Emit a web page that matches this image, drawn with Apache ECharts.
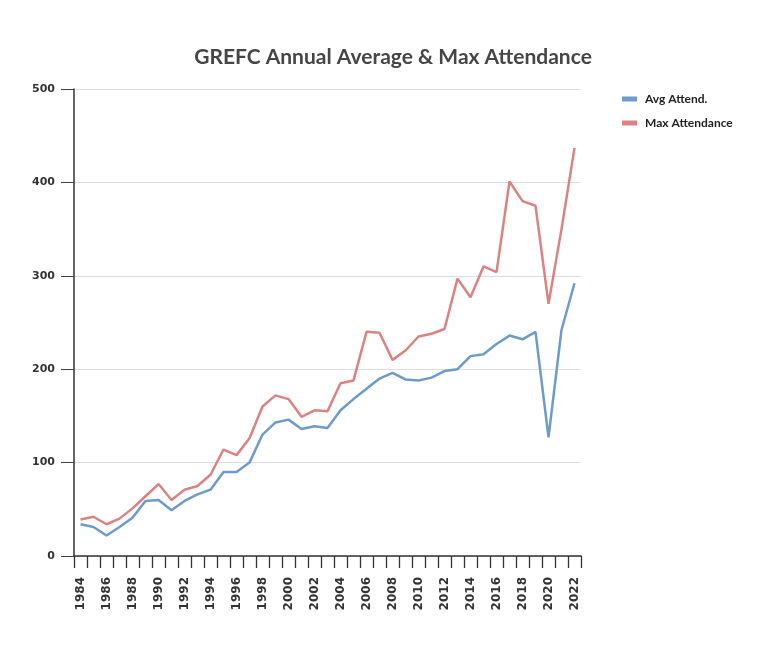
<!DOCTYPE html>
<html><head><meta charset="utf-8">
<script src="https://cdn.jsdelivr.net/npm/echarts@6/dist/echarts.min.js"></script>
<style>html,body{margin:0;padding:0;background:#fff}#c{width:764px;height:645px}</style>
</head><body><div id="c"></div>
<script>
const years = ['1984','1985','1986','1987','1988','1989','1990','1991','1992','1993','1994','1995','1996','1997','1998','1999','2000','2001','2002','2003','2004','2005','2006','2007','2008','2009','2010','2011','2012','2013','2014','2015','2016','2017','2018','2019','2020','2021','2022'];
const avgAttend = [34,31,22,31,41,59,60,49,59,66,71,90,90,100,130,143,146,136,139,137,156,168,179,190,196,189,188,191,198,200,214,216,227,236,232,240,127,242,292];
const maxAttendance = [39,42,34,40,51,64,77,60,71,75,87,114,108,126,160,172,168,149,156,155,185,188,240,239,210,220,235,238,243,297,277,310,304,401,380,375,270,350,437];
const yTicks = {min:0, max:500, interval:100};

const chart = echarts.init(document.getElementById('c'));
chart.setOption({
  backgroundColor:'#fff',
  animation:false,
  title:{text:'GREFC Annual Average & Max Attendance', left:388, top:42, textAlign:'center',
    textStyle:{fontFamily:'Lato', fontSize:21, fontWeight:'bold', color:'#454545'}},
  legend:{orient:'vertical', left:617, top:88, itemWidth:15, itemHeight:5, itemGap:12,
    icon:'rect',
    textStyle:{fontFamily:'Lato', fontSize:12, fontWeight:'bold', color:'#222', padding:[0,0,0,3]},
    data:['Avg Attend.','Max Attendance']},
  grid:{left:74, right:183, top:89, bottom:89, containLabel:false},
  xAxis:{type:'category', data:years, boundaryGap:true,
    axisLine:{lineStyle:{color:'#333', width:1.5}},
    axisTick:{show:true, interval:0, length:12, lineStyle:{color:'#333', width:1.3}},
    axisLabel:{interval:1, rotate:90, fontFamily:'DejaVu Sans', fontSize:12, fontWeight:'bold', color:'#333', margin:21}},
  yAxis:{type:'value', min:yTicks.min, max:yTicks.max, interval:yTicks.interval,
    axisLine:{show:true, lineStyle:{color:'#333', width:1.5}},
    axisTick:{show:true, length:13, lineStyle:{color:'#444'}},
    axisLabel:{fontFamily:'DejaVu Sans', fontSize:11, fontWeight:'bold', color:'#333', margin:19}},
  series:[
    {name:'Avg Attend.', type:'line', data:avgAttend, showSymbol:false, symbol:'none',
      lineStyle:{color:'#6d9bcb', width:2.5}, itemStyle:{color:'#6d9bcb'}},
    {name:'Max Attendance', type:'line', data:maxAttendance, showSymbol:false, symbol:'none',
      lineStyle:{color:'#d98382', width:2.5}, itemStyle:{color:'#d98382'}}
  ]
});
</script></body></html>
